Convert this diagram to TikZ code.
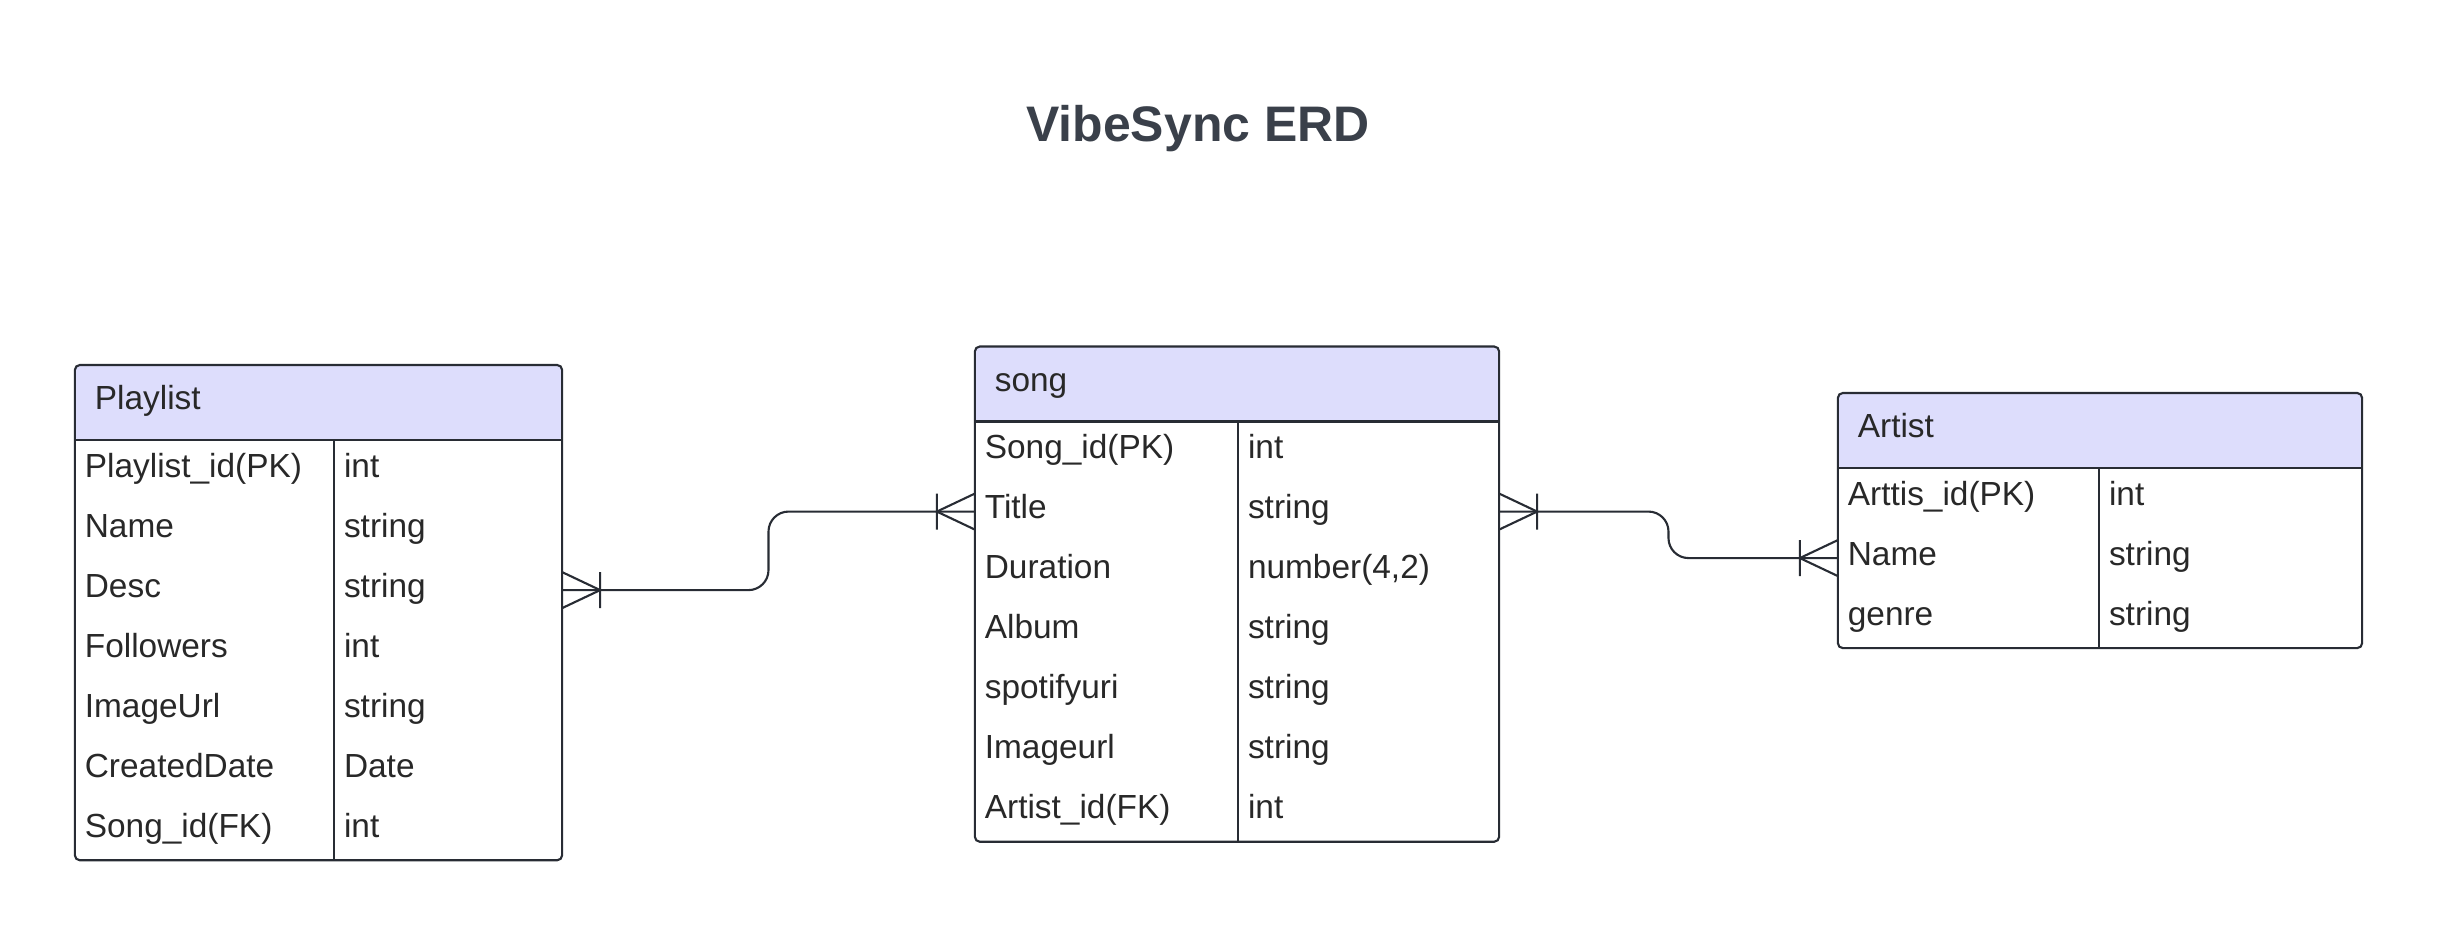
\documentclass[tikz,border=0pt]{standalone}
\usepackage{fontspec}
\setmainfont{Liberation Sans}
\usepackage{xcolor}
\usetikzlibrary{positioning, fit, calc}

\definecolor{edge}{RGB}{40,44,52}
\definecolor{ink}{RGB}{40,40,40}
\definecolor{titleink}{RGB}{58,64,74}
\definecolor{headfill}{RGB}{221,221,252}

\newcommand{\rowfont}{\fontsize{9.5}{11}\selectfont}
\newcommand{\erdtitlefont}{\fontsize{14.2}{17}\selectfont\bfseries}

\begin{document}
\begin{tikzpicture}[x=0.01cm, y=-0.01cm, line width=0.6pt, every node/.style={outer sep=0pt}]
    \tikzset{
        head/.style={fill=headfill, rounded corners=0.05cm, font=\rowfont, text=ink, inner xsep=0.2cm, inner ysep=0pt, minimum height=0.75cm, text height=6pt, text depth=2pt, align=left, text width=#1},
        fld/.style={font=\rowfont, text=ink, inner xsep=0.1cm, inner ysep=0pt, minimum height=0.6cm, text height=6pt, text depth=2pt, align=left, text width=#1},
        entity/.style={draw=edge, rounded corners=0.05cm, inner sep=0pt},
        rel/.style={draw=edge},
        crowsfoot/.pic={\draw[rel] (0,-18) -- (38,0) -- (0,18) (38,-18) -- (38,18);}
    }
    \useasboundingbox (0,0) rectangle (2438,936);

    \node (title) [font=\erdtitlefont, text=titleink, anchor=base] at (1198,141) {VibeSync ERD};

    % Playlist
    \node (plhead) [head=4.47cm] at (318.5,402.5) {Playlist};
    \node (pl1) [fld=2.39cm, below=0pt of plhead.south west, anchor=north west] {Playlist\_id(PK)};
    \node (pl2) [fld=2.39cm, below=0pt of pl1] {Name};
    \node (pl3) [fld=2.39cm, below=0pt of pl2] {Desc};
    \node (pl4) [fld=2.39cm, below=0pt of pl3] {Followers};
    \node (pl5) [fld=2.39cm, below=0pt of pl4] {ImageUrl};
    \node (pl6) [fld=2.39cm, below=0pt of pl5] {CreatedDate};
    \node (pl7) [fld=2.39cm, below=0pt of pl6] {Song\_id(FK)};
    \node (plt1) [fld=2.08cm, right=0pt of pl1] {int};
    \node (plt2) [fld=2.08cm, right=0pt of pl2] {string};
    \node (plt3) [fld=2.08cm, right=0pt of pl3] {string};
    \node (plt4) [fld=2.08cm, right=0pt of pl4] {int};
    \node (plt5) [fld=2.08cm, right=0pt of pl5] {string};
    \node (plt6) [fld=2.08cm, right=0pt of pl6] {Date};
    \node (plt7) [fld=2.08cm, right=0pt of pl7] {int};
    \draw[rel] (plhead.south west) -- (plhead.south east);
    \draw[rel] (pl1.north east) -- (pl7.south east);
    \node (playlist) [entity, fit=(plhead)(pl7)(plt7)] {};

    % song
    \node (sghead) [head=4.84cm] at (1237,384) {song};
    \node (sg1) [fld=2.43cm, below=0pt of sghead.south west, anchor=north west] {Song\_id(PK)};
    \node (sg2) [fld=2.43cm, below=0pt of sg1] {Title};
    \node (sg3) [fld=2.43cm, below=0pt of sg2] {Duration};
    \node (sg4) [fld=2.43cm, below=0pt of sg3] {Album};
    \node (sg5) [fld=2.43cm, below=0pt of sg4] {spotifyuri};
    \node (sg6) [fld=2.43cm, below=0pt of sg5] {Imageurl};
    \node (sg7) [fld=2.43cm, below=0pt of sg6] {Artist\_id(FK)};
    \node (sgt1) [fld=2.41cm, right=0pt of sg1] {int};
    \node (sgt2) [fld=2.41cm, right=0pt of sg2] {string};
    \node (sgt3) [fld=2.41cm, right=0pt of sg3] {number(4,2)};
    \node (sgt4) [fld=2.41cm, right=0pt of sg4] {string};
    \node (sgt5) [fld=2.41cm, right=0pt of sg5] {string};
    \node (sgt6) [fld=2.41cm, right=0pt of sg6] {string};
    \node (sgt7) [fld=2.41cm, right=0pt of sg7] {int};
    \draw[rel] (sghead.south west) -- (sghead.south east);
    \draw[rel, line width=0.35pt] (sg1.north east) -- (sg7.south east);
    \node (song) [entity, fit=(sghead)(sg7)(sgt7)] {};

    % Artist
    \node (arhead) [head=4.84cm] at (2100,430.5) {Artist};
    \node (ar1) [fld=2.41cm, below=0pt of arhead.south west, anchor=north west] {Arttis\_id(PK)};
    \node (ar2) [fld=2.41cm, below=0pt of ar1] {Name};
    \node (ar3) [fld=2.41cm, below=0pt of ar2] {genre};
    \node (art1) [fld=2.43cm, right=0pt of ar1] {int};
    \node (art2) [fld=2.43cm, right=0pt of ar2] {string};
    \node (art3) [fld=2.43cm, right=0pt of ar3] {string};
    \draw[rel] (arhead.south west) -- (arhead.south east);
    \draw[rel] (ar1.north east) -- (ar3.south east);
    \node (artist) [entity, fit=(arhead)(ar3)(art3)] {};

    % relations
    \coordinate (bend1) at ($(playlist.east |- pl3)!0.5!(song.west |- sg2)$);
    \coordinate (bend2) at ($(song.east |- sg2)!0.5!(artist.west |- ar2)$);
    \draw[rel, rounded corners=0.2cm] (playlist.east |- pl3) -| (bend1 |- sg2) -- (song.west |- sg2);
    \draw[rel, rounded corners=0.2cm] (song.east |- sg2) -| (bend2 |- ar2) -- (artist.west |- ar2);
    \pic at (playlist.east |- pl3) {crowsfoot};
    \pic[rotate=180] at (song.west |- sg2) {crowsfoot};
    \pic at (song.east |- sg2) {crowsfoot};
    \pic[rotate=180] at (artist.west |- ar2) {crowsfoot};
\end{tikzpicture}
\end{document}
